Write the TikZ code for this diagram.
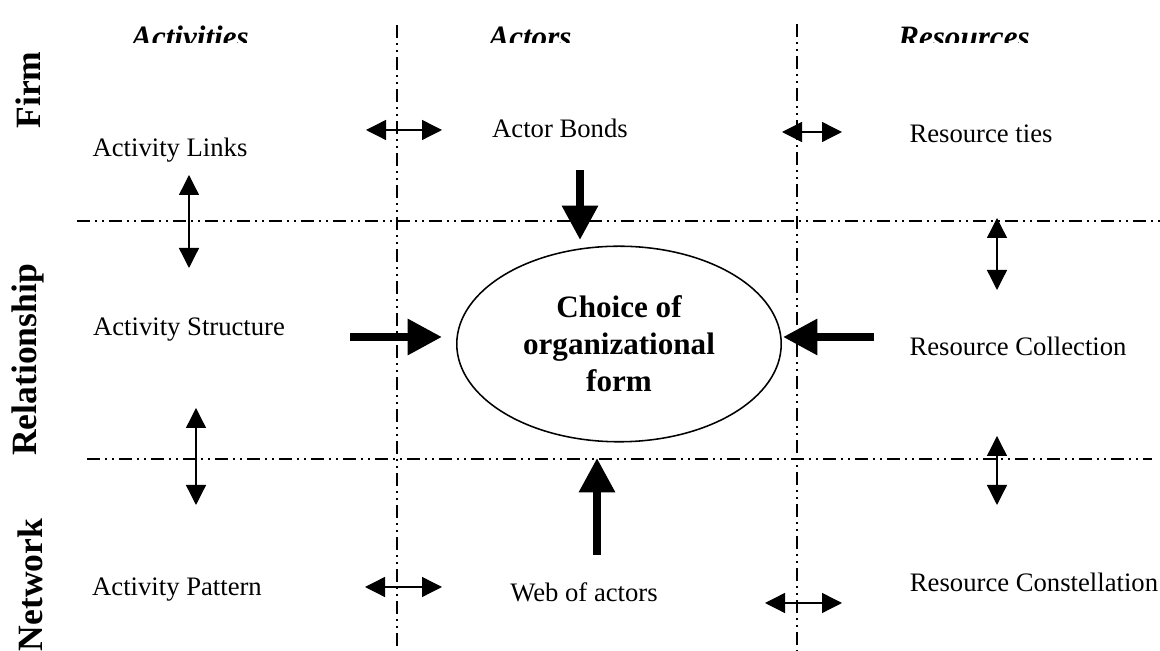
\documentclass[tikz,border=0pt]{standalone}
\usepackage{fontspec}
\setmainfont{Liberation Serif}
\usetikzlibrary{arrows.meta,shapes.geometric}

\tikzset{
  sepline/.style={line width=0.7pt, dash pattern=on 6pt off 2.2pt on 0.9pt off 2.2pt on 0.9pt off 2.2pt},
  dbl/.style={line width=0.6pt, {Triangle[length=9pt,width=9pt]}-{Triangle[length=9pt,width=9pt]}},
  big/.style={line width=3.6pt, -{Triangle[length=15.5pt,width=15.5pt]}},
  lbl/.style={font=\fontsize{12}{14}\selectfont, inner sep=0pt},
  colhead/.style={font=\fontsize{14}{16}\selectfont\bfseries\itshape, inner sep=0pt, anchor=base},
  rowhead/.style={font=\fontsize{16}{18}\selectfont\bfseries, inner sep=0pt, rotate=90}
}

\begin{document}
\begin{tikzpicture}[x=0.45pt, y=-0.45pt]
      \useasboundingbox (0,0) rectangle (1160,651);

      % column headings, cut off at the top edge
      \begin{scope}
        \clip (0,0) rectangle (1160,43);
        \node[colhead] (hact) at (190,48) {Activities};
        \node[colhead] (hactor) at (530,48) {Actors};
        \node[colhead] (hres) at (964,48) {Resources};
      \end{scope}

      % row headings
      \node[rowhead] (firm) at (28,90) {Firm};
      \node[rowhead] (rel) at (28,360) {Relationship};
      \node[rowhead] (net) at (30,585) {Network};

      % separating lines
      \coordinate (v1t) at (397,25);  \coordinate (v1b) at (397,651);
      \coordinate (v2t) at (797,24);  \coordinate (v2b) at (797,651);
      \coordinate (h1l) at (77,221);  \coordinate (h1r) at (1160,221);
      \coordinate (h2l) at (87,459);  \coordinate (h2r) at (1152,459);
      \draw[sepline] (v1t) -- (v1b);
      \draw[sepline] (v2t) -- (v2b);
      \draw[sepline] (h1l) -- (h1r);
      \draw[sepline] (h2l) -- (h2r);

      % the nine cells
      \node[lbl] (alinks) at (170,150) {Activity Links};
      \node[lbl] (abonds) at (560,128) {Actor Bonds};
      \node[lbl] (rties) at (981,134) {Resource ties};
      \node[lbl] (astruct) at (189,330) {Activity Structure};
      \node[lbl] (rcoll) at (1018,346) {Resource Collection};
      \node[lbl] (apatt) at (177,590) {Activity Pattern};
      \node[lbl] (web) at (584,592) {Web of actors};
      \node[lbl] (rconst) at (1034,582) {Resource Constellation};

      % centre
      \node[draw, ellipse, line width=0.7pt, minimum width=146pt, minimum height=88pt,
            inner sep=0pt, align=center, font=\fontsize{14}{16.6}\selectfont\bfseries]
            (choice) at (619,344) {Choice of\\organizational\\form};

      % thin double arrows
      \coordinate (d1a) at (366,130); \coordinate (d1b) at (442,130);
      \coordinate (d2a) at (782,132); \coordinate (d2b) at (842,132);
      \coordinate (d3a) at (189,175); \coordinate (d3b) at (189,268);
      \coordinate (d4a) at (997,218); \coordinate (d4b) at (997,290);
      \coordinate (d5a) at (196,408); \coordinate (d5b) at (196,505);
      \coordinate (d6a) at (997,436); \coordinate (d6b) at (997,505);
      \coordinate (d7a) at (365,587); \coordinate (d7b) at (442,587);
      \coordinate (d8a) at (765,603); \coordinate (d8b) at (842,603);
      \foreach \a/\b in {d1a/d1b,d2a/d2b,d3a/d3b,d4a/d4b,d5a/d5b,d6a/d6b,d7a/d7b,d8a/d8b}
        \draw[dbl] (\a) -- (\b);

      % thick arrows into the choice
      \coordinate (t1) at (580,170); \coordinate (e1) at (580,240);
      \coordinate (t2) at (350,337); \coordinate (e2) at (442,337);
      \coordinate (t3) at (874,337); \coordinate (e3) at (783,337);
      \coordinate (t4) at (597,555); \coordinate (e4) at (597,458);
      \draw[big] (t1) -- (e1);
      \draw[big] (t2) -- (e2);
      \draw[big] (t3) -- (e3);
      \draw[big] (t4) -- (e4);

\end{tikzpicture}
\end{document}
